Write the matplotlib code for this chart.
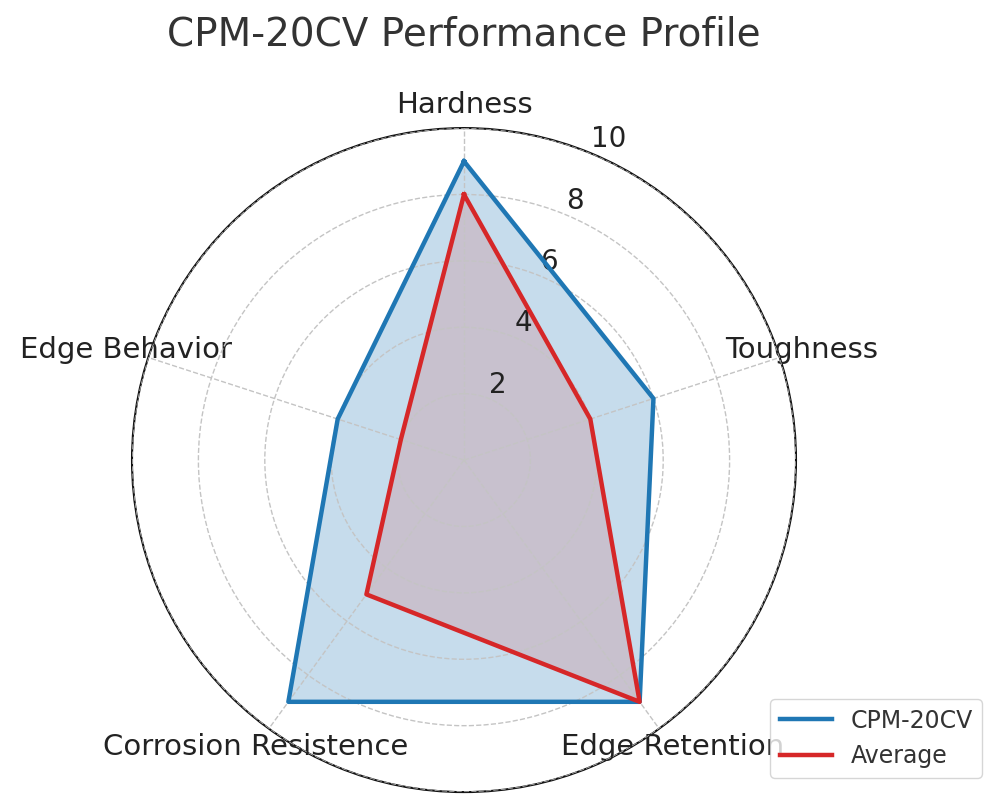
import numpy as np
import matplotlib
matplotlib.use("Agg")
import matplotlib.pyplot as plt

categories = ["Hardness", "Toughness", "Edge Retention", "Corrosion Resistence", "Edge Behavior"]
cpm_values = [9, 6, 9, 9, 4]
avg_values = [8, 4, 9, 5, 2]
r_ticks = [2, 4, 6, 8, 10]

n = len(categories)
angles = np.linspace(0, 2 * np.pi, n, endpoint=False).tolist()
angles += angles[:1]
cpm = cpm_values + cpm_values[:1]
avg = avg_values + avg_values[:1]

fig = plt.figure(figsize=(10, 8.1), dpi=100)
ax = fig.add_axes([0.132, 0.022, 0.664, 0.82], polar=True)
ax.set_theta_offset(np.pi / 2)
ax.set_theta_direction(-1)

ax.plot(angles, cpm, color="#1f77b4", linewidth=3.2, label="CPM-20CV", zorder=3)
ax.fill(angles, cpm, color="#1f77b4", alpha=0.25, zorder=1)
ax.plot(angles, avg, color="#d62728", linewidth=3.2, label="Average", zorder=3)
ax.fill(angles, avg, color="#d62728", alpha=0.15, zorder=1)

ax.set_xticks(angles[:-1])
ax.set_xticklabels(categories, fontsize=21, color="#222222")
ax.set_ylim(0, 10)
ax.set_yticks(r_ticks)
ax.set_yticklabels([str(t) for t in r_ticks], fontsize=20, color="#222222")
ax.set_axisbelow(False)
ax.grid(True, linestyle="--", color="#c4c4c4", linewidth=1, zorder=2)
ax.spines["polar"].set_color("#111111")
ax.spines["polar"].set_linewidth(1.5)
ax.tick_params(axis="x", pad=6)

fig.text(0.464, 0.957, "CPM-20CV Performance Profile", fontsize=28, color="#333333",
         ha="center", va="center")
leg = fig.legend(loc="lower right", bbox_to_anchor=(0.994, 0.025), fontsize=17,
                 handlelength=2.2, framealpha=0.8, edgecolor="#cccccc")
for t in leg.get_texts():
    t.set_color("#333333")

fig.savefig("out.png", dpi=100)
